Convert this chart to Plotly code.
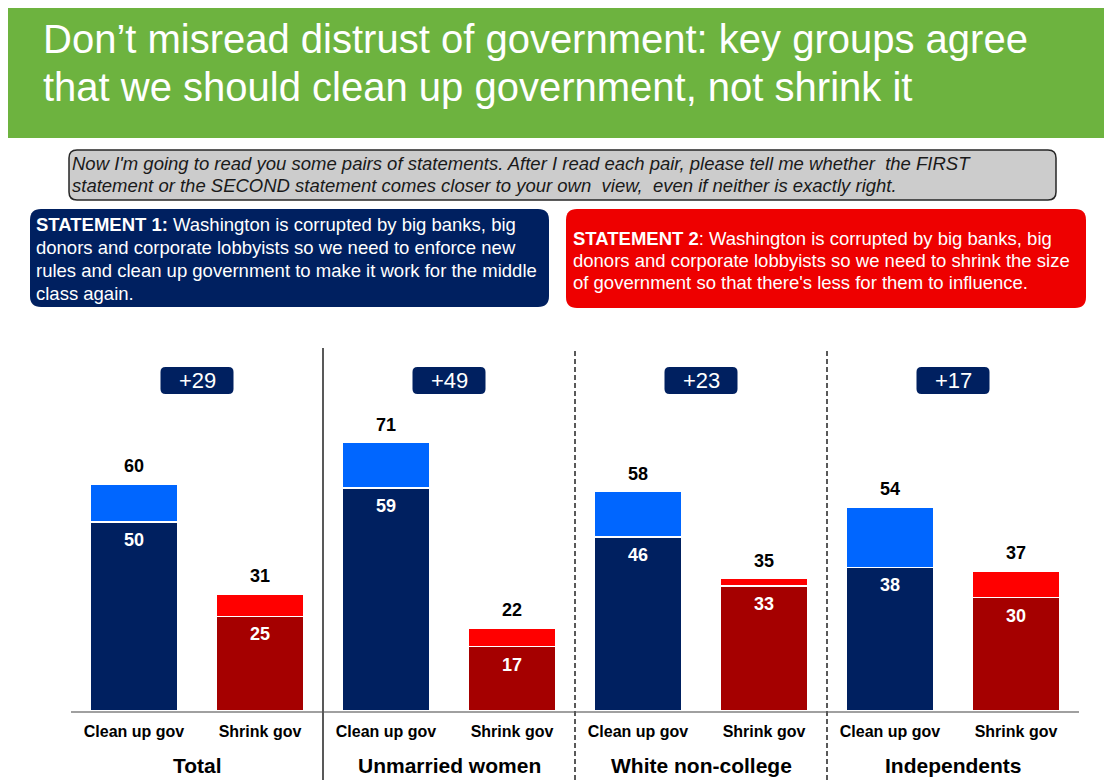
import plotly.graph_objects as go

# ---------------- data ----------------
groups = ["Total", "Unmarried women", "White non-college", "Independents"]
bar_labels = ["Clean up gov", "Shrink gov"]
clean_total = [60, 71, 58, 54]
clean_base = [50, 59, 46, 38]
shrink_total = [31, 22, 35, 37]
shrink_base = [25, 17, 33, 30]
margins = ["+29", "+49", "+23", "+17"]

title_lines = ["Don’t misread distrust of government: key groups agree",
               "that we should clean up government, not shrink it"]
question_lines = ["Now I'm going to read you some pairs of statements. After I read each pair, please tell me whether  the FIRST",
                  "statement or the SECOND statement comes closer to your own  view,  even if neither is exactly right."]
stmt1_lines = ["<b>STATEMENT 1:</b> Washington is corrupted by big banks, big",
               "donors and corporate lobbyists so we need to enforce new",
               "rules and clean up government to make it work for the middle",
               "class again."]
stmt2_lines = ["<b>STATEMENT 2</b>: Washington is corrupted by big banks, big",
               "donors and corporate lobbyists so we need to shrink the size",
               "of government so that there's less for them to influence."]

NAVY = "#002060"
BLUE = "#0066FF"
DRED = "#A50000"
RED = "#FF0000"
GREEN = "#6DB33F"
FONT = "Liberation Sans, Arial, sans-serif"

# ---------------- layout geometry (page pixels) ----------------
OFF = 8                      # page body margin
W, H = 1112, 780
L, R, T, B = 71, 1079, 348, 711


def px(xp):
    return (xp - L) / (R - L)


def py(yp):
    return (B - yp) / (B - T)


def rrect(x0, y0, x1, y1, r):
    rx = r / (R - L)
    ry = r / (B - T)
    X0, X1 = px(x0), px(x1)
    Y0, Y1 = py(y1), py(y0)
    return (f"M{X0+rx},{Y0} L{X1-rx},{Y0} Q{X1},{Y0} {X1},{Y0+ry} "
            f"L{X1},{Y1-ry} Q{X1},{Y1} {X1-rx},{Y1} L{X0+rx},{Y1} "
            f"Q{X0},{Y1} {X0},{Y1-ry} L{X0},{Y0+ry} Q{X0},{Y0} {X0+rx},{Y0} Z")


def text_line(x, y, text, size, color, italic=False):
    if italic:
        text = f"<i>{text}</i>"
    return dict(x=px(x), y=py(y), xref="paper", yref="paper", xanchor="left", yanchor="middle",
                align="left", showarrow=False, text=text,
                font=dict(family=FONT, size=size, color=color))


# ---------------- bars ----------------
xs, base_vals, top_vals, base_cols, top_cols, tot_vals = [], [], [], [], [], []
for i in range(len(groups)):
    xs += [2 * i, 2 * i + 1]
    base_vals += [clean_base[i], shrink_base[i]]
    tot_vals += [clean_total[i], shrink_total[i]]
    top_vals += [clean_total[i] - clean_base[i], shrink_total[i] - shrink_base[i]]
    base_cols += [NAVY, DRED]
    top_cols += [BLUE, RED]

fig = go.Figure()
fig.add_trace(go.Bar(x=xs, y=base_vals, marker=dict(color=base_cols, line=dict(color="white", width=1.5)),
                     width=0.7, hoverinfo="skip"))
fig.add_trace(go.Bar(x=xs, y=top_vals, marker=dict(color=top_cols, line=dict(color="white", width=1.5)),
                     width=0.7, hoverinfo="skip"))

ann = []
shapes = []
for x, b, t in zip(xs, base_vals, tot_vals):
    ann.append(dict(x=x, y=t, xref="x", yref="y", text=f"<b>{t}</b>", showarrow=False,
                    xanchor="center", yanchor="middle", yshift=18,
                    font=dict(family=FONT, size=18, color="black")))
    ann.append(dict(x=x, y=b, xref="x", yref="y", text=f"<b>{b}</b>", showarrow=False,
                    xanchor="center", yanchor="middle", yshift=-18,
                    font=dict(family=FONT, size=18, color="white")))

for i, g in enumerate(groups):
    cx = 2 * i + 0.5
    ann.append(dict(x=cx, y=py(765), xref="x", yref="paper", text=f"<b>{g}</b>", showarrow=False,
                    xanchor="center", yanchor="middle",
                    font=dict(family=FONT, size=21, color="black")))
    hw, rr = 36.5 / 126, 5
    rx, ry = rr / 126, rr / (B - T)
    X0, X1, Y0, Y1 = cx - hw, cx + hw, py(394), py(367)
    shapes.append(dict(type="path", xref="x", yref="paper", fillcolor=NAVY, line=dict(width=0),
                       path=(f"M{X0+rx},{Y0} L{X1-rx},{Y0} Q{X1},{Y0} {X1},{Y0+ry} L{X1},{Y1-ry} "
                             f"Q{X1},{Y1} {X1-rx},{Y1} L{X0+rx},{Y1} Q{X0},{Y1} {X0},{Y1-ry} "
                             f"L{X0},{Y0+ry} Q{X0},{Y0} {X0+rx},{Y0} Z")))
    ann.append(dict(x=cx, y=(Y0 + Y1) / 2, xref="x", yref="paper", text=margins[i], showarrow=False,
                    xanchor="center", yanchor="middle",
                    font=dict(family=FONT, size=22, color="white")))
    if i > 0:
        shapes.append(dict(type="line", xref="x", yref="paper", x0=2 * i - 0.5, x1=2 * i - 0.5,
                           y0=py(780), y1=py(348),
                           line=dict(color="#595959", width=2, dash="solid" if i == 1 else "5px,3px")))

# header band
shapes.append(dict(type="rect", xref="paper", yref="paper", x0=px(7), x1=px(1112), y0=py(138), y1=py(8),
                   fillcolor=GREEN, line=dict(width=0), layer="below"))
ann.append(text_line(41, 39, title_lines[0], 40, "white"))
ann.append(text_line(41, 87, title_lines[1], 40, "white"))

# question box
shapes.append(dict(type="path", xref="paper", yref="paper", path=rrect(69, 150, 1056, 200, 8),
                   fillcolor="#CCCCCC", line=dict(color="#262626", width=1.5)))
ann.append(text_line(70, 163, question_lines[0], 18.5, "#1a1a1a", italic=True))
ann.append(text_line(70, 186, question_lines[1], 18.5, "#1a1a1a", italic=True))

# statement boxes
shapes.append(dict(type="path", xref="paper", yref="paper", path=rrect(30, 209, 549, 307, 11),
                   fillcolor=NAVY, line=dict(width=0)))
for s, yy in zip(stmt1_lines, [224, 247, 270, 293]):
    ann.append(text_line(34, yy, s, 18.5, "white"))
shapes.append(dict(type="path", xref="paper", yref="paper", path=rrect(566, 209, 1086, 308, 11),
                   fillcolor="#EE0000", line=dict(width=0)))
for s, yy in zip(stmt2_lines, [238, 260, 282]):
    ann.append(text_line(571, yy, s, 18.5, "white"))

fig.update_layout(
    width=W - OFF, height=H - OFF, barmode="stack", showlegend=False,
    margin=dict(l=L - OFF, r=W - R, t=T - OFF, b=H - B, pad=0),
    paper_bgcolor="white", plot_bgcolor="white",
    xaxis=dict(range=[-0.5, 7.5], tickvals=xs, ticktext=[f"<b>{bar_labels[k % 2]}</b>" for k in range(len(xs))],
               tickfont=dict(family=FONT, size=16, color="black"), showline=True, linecolor="#A0A0A0",
               linewidth=1.5, showgrid=False, zeroline=False, ticks="", ticklabelstandoff=5, fixedrange=True),
    yaxis=dict(range=[0, 96], visible=False, fixedrange=True),
    annotations=ann, shapes=shapes,
)

fig.write_html("out.html")
